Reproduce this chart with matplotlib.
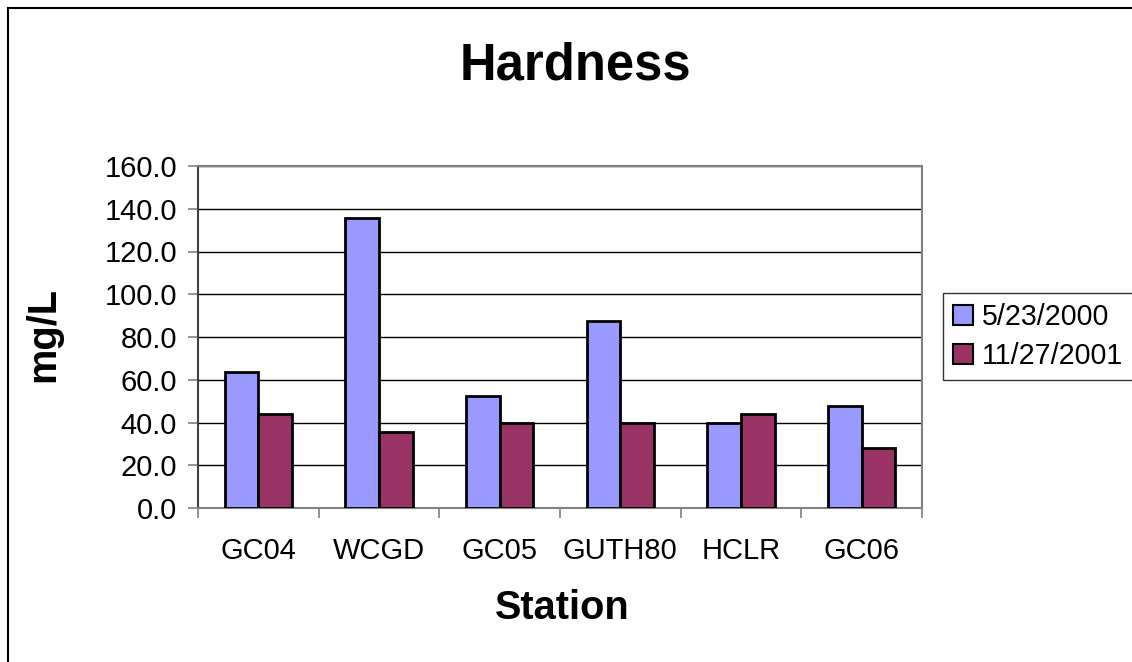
import matplotlib
matplotlib.use("Agg")
import matplotlib.pyplot as plt
from matplotlib.lines import Line2D
import numpy as np

plt.rcParams['font.family'] = ['Liberation Sans', 'DejaVu Sans']

stations = ["GC04", "WCGD", "GC05", "GUTH80", "HCLR", "GC06"]
hardness_2000 = [63.6, 135.5, 52.2, 87.7, 40.0, 47.7]
hardness_2001 = [43.9, 35.4, 40.0, 40.0, 43.9, 28.0]
series_labels = ["5/23/2000", "11/27/2001"]
yticks = [0, 20, 40, 60, 80, 100, 120, 140, 160]

W, H = 1132, 662
fig = plt.figure(figsize=(W / 100, H / 100), dpi=100)
fig.patch.set_facecolor("white")

# plot area in pixel coordinates
left, right, top, bottom = 198, 922, 166, 508
ax = fig.add_axes([left / W, (H - bottom) / H, (right - left) / W, (bottom - top) / H])

x = np.arange(len(stations))
bw = 0.28
ax.bar(x - bw / 2, hardness_2000, width=bw, color="#9999FF", edgecolor="black",
       linewidth=2.0, label=series_labels[0], zorder=3)
ax.bar(x + bw / 2, hardness_2001, width=bw, color="#993366", edgecolor="black",
       linewidth=2.0, label=series_labels[1], zorder=3)

ax.set_xlim(-0.5, len(stations) - 0.5)
ax.set_ylim(0, 160)
ax.set_yticks(yticks)
ax.set_yticklabels([f"{v:.1f}" for v in yticks], fontsize=21)
ax.yaxis.grid(True, color="black", linewidth=1.0, zorder=0)
ax.set_axisbelow(True)

# category labels centered, tick marks on category boundaries
ax.set_xticks(x)
ax.set_xticklabels(stations, fontsize=21)
ax.tick_params(axis="x", which="major", length=0, pad=21)
ax.set_xticks(np.arange(-0.5, len(stations)), minor=True)
ax.tick_params(axis="x", which="minor", length=7, width=1.2, color="#808080", direction="out")
ax.tick_params(axis="y", length=7, width=1.2, color="#808080", direction="out", pad=8)

for side in ("top", "right"):
    ax.spines[side].set_color("#808080")
    ax.spines[side].set_linewidth(1.5)
ax.spines["left"].set_color("#404040")
ax.spines["left"].set_linewidth(1.5)
ax.spines["bottom"].set_color("#808080")
ax.spines["bottom"].set_linewidth(1.5)

fig.text(575 / W, 1 - 66 / H, "Hardness", fontsize=36.5, fontweight="bold",
         ha="center", va="center")
fig.text(562 / W, 1 - 608 / H, "Station", fontsize=28.6, fontweight="bold",
         ha="center", va="center")
fig.text(43 / W, 1 - 335 / H, "mg/L", fontsize=28.6, fontweight="bold",
         ha="center", va="center", rotation=90)

leg = fig.legend(loc="upper left", bbox_to_anchor=(943 / W, 1 - 293 / H),
                 fontsize=20.6, frameon=True, fancybox=False, edgecolor="black",
                 handlelength=0.7, handleheight=0.7, handletextpad=0.3,
                 borderpad=0.35, labelspacing=0.4, borderaxespad=0)
leg.get_frame().set_linewidth(1.0)
for h in leg.legend_handles:
    h.set_linewidth(1.5)

# chart border along top and left edges
fig.add_artist(Line2D([8 / W, 8 / W], [0, 1 - 8 / H], transform=fig.transFigure,
                      color="black", linewidth=1.5))
fig.add_artist(Line2D([8 / W, 1], [1 - 8 / H, 1 - 8 / H], transform=fig.transFigure,
                      color="black", linewidth=1.5))

fig.savefig("out.png", dpi=100)
